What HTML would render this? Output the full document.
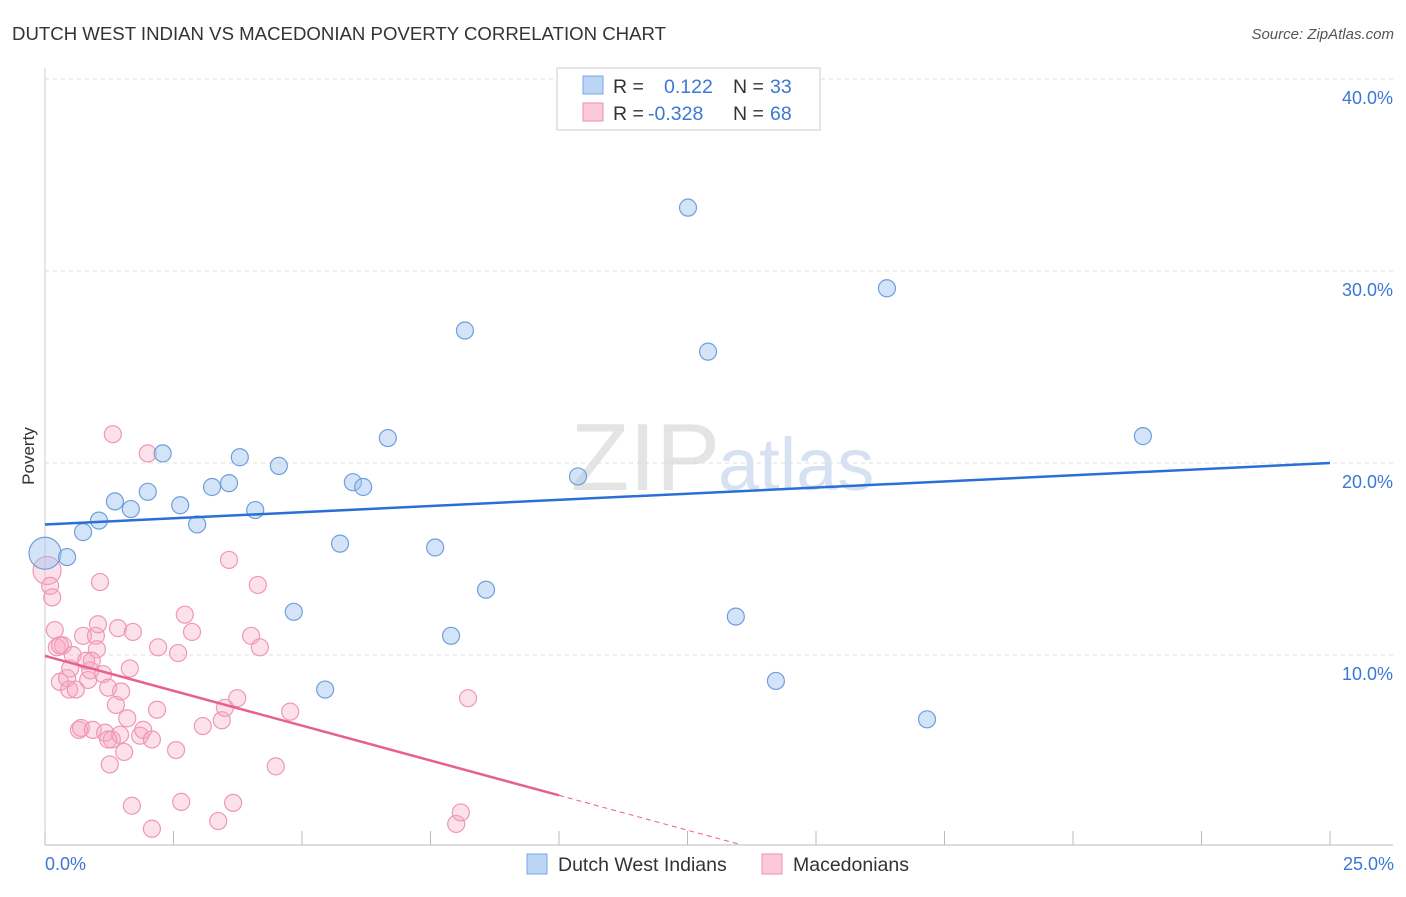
<!DOCTYPE html>
<html><head><meta charset="utf-8"><style>
body{margin:0;background:#fff;font-family:"Liberation Sans",sans-serif;}
svg text{font-family:"Liberation Sans",sans-serif;}
</style></head><body>
<svg width="1406" height="892" viewBox="0 0 1406 892" xmlns="http://www.w3.org/2000/svg">
<text x="12" y="40" font-size="18" fill="#333" textLength="654" lengthAdjust="spacingAndGlyphs">DUTCH WEST INDIAN VS MACEDONIAN POVERTY CORRELATION CHART</text>
<text x="1394" y="39" font-size="15" fill="#555" font-style="italic" text-anchor="end">Source: ZipAtlas.com</text>
<text x="720" y="490" font-size="96" fill="#e4e4e4" text-anchor="end" font-family="Liberation Serif">ZIP</text>
<text x="718" y="490" font-size="74" fill="#d6e2f2">atlas</text>
<g id="grid"></g>
<g id="axes"></g>
<g id="marks"></g>
<text transform="translate(34,456) rotate(-90)" font-size="17" fill="#333" text-anchor="middle">Poverty</text>
<text x="45" y="870" font-size="18" fill="#3a78d4">0.0%</text>
<text x="1394" y="870" font-size="18" fill="#3a78d4" text-anchor="end">25.0%</text>
<g>
<rect x="557" y="68" width="263" height="62" fill="#fff" stroke="#ccc"/>
<rect x="583" y="76" width="20" height="18" fill="#bcd5f5" stroke="#7aa6e0"/>
<rect x="583" y="103" width="20" height="18" fill="#fbc9d8" stroke="#ee8fab"/>
<text x="613" y="93" font-size="19.5" fill="#333">R = </text><text x="664" y="93" font-size="19.5" fill="#3a78d4">0.122</text>
<text x="733" y="93" font-size="19.5" fill="#333">N = </text><text x="770" y="93" font-size="19.5" fill="#3a78d4">33</text>
<text x="613" y="120" font-size="19.5" fill="#333">R = </text><text x="648" y="120" font-size="19.5" fill="#3a78d4">-0.328</text>
<text x="733" y="120" font-size="19.5" fill="#333">N = </text><text x="770" y="120" font-size="19.5" fill="#3a78d4">68</text>
</g>
<g>
<rect x="527" y="854" width="20" height="20" fill="#bcd5f5" stroke="#7aa6e0"/>
<text x="558" y="871" font-size="19.5" fill="#333">Dutch West Indians</text>
<rect x="762" y="854" width="20" height="20" fill="#fbc9d8" stroke="#ee8fab"/>
<text x="793" y="871" font-size="19.5" fill="#333">Macedonians</text>
</g>
</svg>
<script>
const yTicks=[10,20,30,40];
const yTickLabels=["10.0%","20.0%","30.0%","40.0%"];
const xTicks=[0,2.5,5,7.5,10,12.5,15,17.5,20,22.5,25];
const blueX=[0,0.43,0.74,1.05,1.36,1.67,2.0,2.29,2.63,2.96,3.25,3.58,3.79,4.09,4.55,4.84,5.45,5.74,5.99,6.19,6.67,7.59,7.9,8.17,8.58,10.37,12.51,12.9,13.44,14.22,16.38,17.16,21.36];
const blueY=[15.3,15.1,16.4,17.0,18.0,17.6,18.5,20.5,17.8,16.8,18.75,18.95,20.3,17.55,19.85,12.25,8.2,15.8,19.0,18.75,21.3,15.6,11.0,26.9,13.4,19.3,33.3,25.8,12.0,8.65,29.1,6.65,21.4];
const pinkX=[0.04,0.1,0.14,0.19,0.23,0.29,0.35,0.43,0.47,0.49,0.54,0.6,0.66,0.7,0.74,0.8,0.84,0.88,0.93,0.99,1.03,1.07,1.13,1.17,1.23,1.26,1.3,1.32,1.38,1.42,1.48,1.54,1.6,1.65,1.69,1.71,1.85,1.91,2.0,2.08,2.08,2.18,2.2,2.55,2.59,2.65,2.72,2.86,3.07,3.37,3.44,3.5,3.58,3.66,3.74,4.01,4.14,4.18,4.49,4.77,8.0,8.09,8.23,1.01,0.29,0.91,1.46,1.23];
const pinkY=[14.4,13.6,13.0,11.3,10.4,8.6,10.5,8.8,8.2,9.3,10.0,8.2,6.1,6.2,11.0,9.7,8.7,9.2,6.1,11.0,11.6,13.8,9.0,5.95,8.3,4.3,5.6,21.5,7.4,11.4,8.1,4.95,6.7,9.3,2.15,11.2,5.8,6.1,20.5,5.6,0.95,7.15,10.4,5.05,10.1,2.35,12.1,11.2,6.3,1.35,6.6,7.25,14.95,2.3,7.75,11.0,13.65,10.4,4.2,7.05,1.2,1.8,7.75,10.3,10.5,9.7,5.85,5.6];
const blueTrend=[16.8,20.0];
const pinkTrend=[9.95,-8.2];
const pinkSolidEnd=10.0, pinkDashEnd=13.5;
const NS="http://www.w3.org/2000/svg";
const X=v=>45+v/25*1285, Y=v=>847-v*19.2;
function mk(t,a,p){const e=document.createElementNS(NS,t);for(const k in a)e.setAttribute(k,a[k]);document.getElementById(p).appendChild(e);return e;}
const gl=mk('line',{x1:45,x2:1393,y1:79,y2:79,stroke:'#ddd','stroke-dasharray':'4,4'},'grid');


yTicks.forEach((v,i)=>{
 const l=mk('line',{x1:45,x2:1393,y1:Y(v),y2:Y(v),stroke:'#ddd','stroke-dasharray':'4,4'},'grid');
 
 
 const t=mk('text',{x:1393,y:Y(v)+25,'font-size':18,fill:'#3a78d4','text-anchor':'end'},'grid');
 t.textContent=yTickLabels[i];
 
 
});
const ya=mk('line',{x1:45,x2:45,y1:68,y2:845,stroke:'#ccc'},'axes');


const xa=mk('line',{x1:45,x2:1393,y1:845,y2:845,stroke:'#bbb'},'axes');


xTicks.forEach(v=>{
 const l=mk('line',{x1:X(v),x2:X(v),y1:831,y2:845,stroke:'#bbb'},'axes');
 
 
});
pinkX.forEach((x,i)=>{
 const c=mk('circle',{cx:X(x),cy:Y(pinkY[i]),r:i==0?14:8.5,fill:'rgba(247,170,195,0.35)',stroke:'#ef98b4','stroke-width':1.2},'marks');
 
 
});
blueX.forEach((x,i)=>{
 const c=mk('circle',{cx:X(x),cy:Y(blueY[i]),r:i==0?16:8.5,fill:'rgba(160,195,240,0.45)',stroke:'#6f9fdc','stroke-width':1.2},'marks');
 
 
});
const bl=mk('line',{x1:X(0),y1:Y(blueTrend[0]),x2:X(25),y2:Y(blueTrend[1]),stroke:'#2a6fd6','stroke-width':2.5},'marks');


const pAt=v=>pinkTrend[0]+(pinkTrend[1]-pinkTrend[0])*v/25;
const pl=mk('line',{x1:X(0),y1:Y(pAt(0)),x2:X(pinkSolidEnd),y2:Y(pAt(pinkSolidEnd)),stroke:'#e8608c','stroke-width':2.5},'marks');


const pd=mk('line',{x1:X(pinkSolidEnd),y1:Y(pAt(pinkSolidEnd)),x2:X(pinkDashEnd),y2:Y(pAt(pinkDashEnd)),stroke:'#e8608c','stroke-width':1,'stroke-dasharray':'5,4'},'marks');


</script>
</body></html>
